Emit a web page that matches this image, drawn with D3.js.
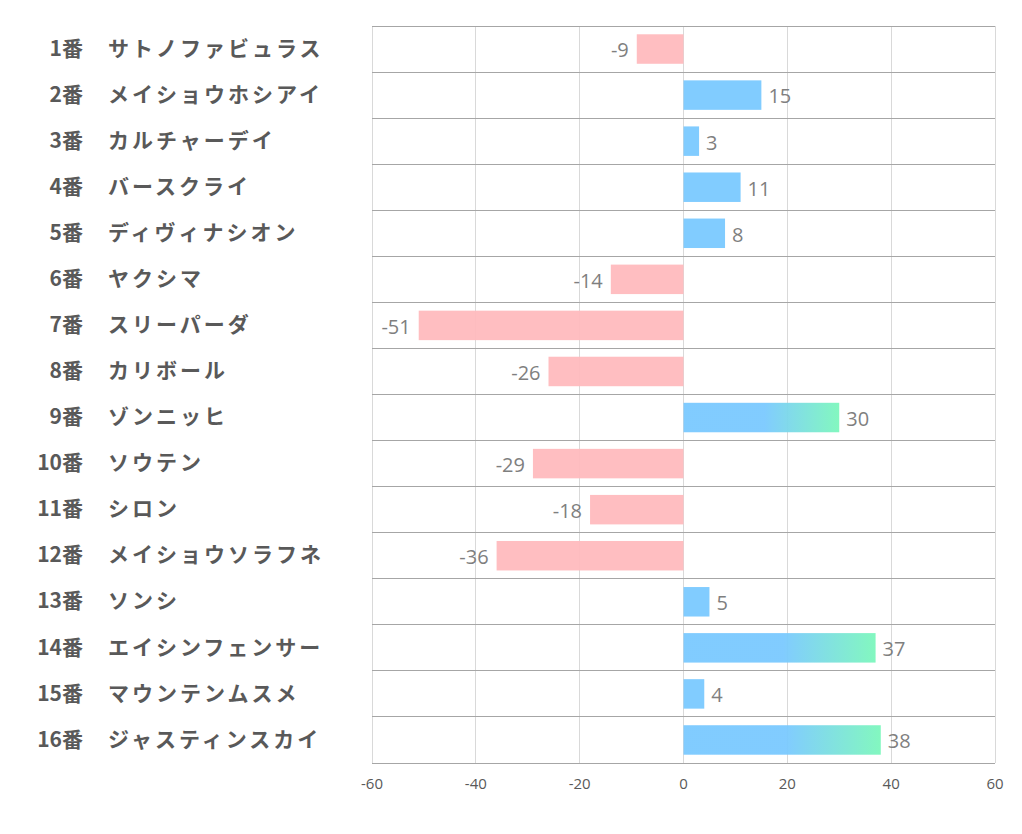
<!DOCTYPE html>
<html><head><meta charset="utf-8">
<script src="https://cdn.jsdelivr.net/npm/d3@7"></script>
<style>body{margin:0;background:#fff;} svg{display:block;}</style>
</head><body>
<svg id="c" width="1022" height="834"></svg>
<script>
const numbers = ["1番","2番","3番","4番","5番","6番","7番","8番","9番","10番","11番","12番","13番","14番","15番","16番"];
const names = ["サトノファビュラス","メイショウホシアイ","カルチャーデイ","バースクライ","ディヴィナシオン","ヤクシマ","スリーパーダ","カリボール","ゾンニッヒ","ソウテン","シロン","メイショウソラフネ","ソンシ","エイシンフェンサー","マウンテンムスメ","ジャスティンスカイ"];
const values = [-9,15,3,11,8,-14,-51,-26,30,-29,-18,-36,5,37,4,38];
const ticks = [-60,-40,-20,0,20,40,60];

(function(){
const svg = d3.select("#c");
const pL = 372, pR = 995, pT = 26, pB = 763;
const x = d3.scaleLinear().domain([-60,60]).range([pL,pR]);
const y = d3.scaleBand().domain(d3.range(values.length)).range([pT,pB]).paddingInner(0.36).paddingOuter(0.18);
const step = (pB-pT)/values.length;
const font = "'Noto Sans CJK JP','Noto Sans',sans-serif";

const defs = svg.append("defs");
const g = defs.append("linearGradient").attr("id","gr").attr("x1","0").attr("x2","1").attr("y1","0").attr("y2","0");
g.append("stop").attr("offset","0").attr("stop-color","#7ac9ff");
g.append("stop").attr("offset","0.52").attr("stop-color","#7ac9ff");
g.append("stop").attr("offset","1").attr("stop-color","#7cf7bc");

svg.append("g").selectAll("line").data(ticks).join("line")
  .attr("x1",d=>x(d)).attr("x2",d=>x(d)).attr("y1",pT).attr("y2",pB)
  .attr("stroke","#d9d9d9").attr("stroke-width",1).attr("shape-rendering","crispEdges");
svg.append("g").selectAll("line").data(d3.range(values.length+1)).join("line")
  .attr("x1",pL).attr("x2",pR).attr("y1",i=>pT+i*step).attr("y2",i=>pT+i*step)
  .attr("stroke","#a6a6a6").attr("stroke-width",1).attr("shape-rendering","crispEdges");

svg.append("g").selectAll("rect").data(values).join("rect")
  .attr("x",d=>x(Math.min(0,d))).attr("width",d=>Math.abs(x(d)-x(0)))
  .attr("y",(d,i)=>y(i)).attr("height",y.bandwidth())
  .attr("fill",d=>d<0?"#ffbbbe":(d>=30?"url(#gr)":"#7ac9ff"))
  .attr("fill-opacity",0.95);

svg.append("g").selectAll("text").data(values).join("text")
  .attr("x",d=>d<0?x(d)-8:x(d)+7)
  .attr("y",(d,i)=>y(i)+y.bandwidth()/2+3)
  .attr("text-anchor",d=>d<0?"end":"start")
  .attr("dominant-baseline","middle")
  .attr("font-family","'Open Sans','Noto Sans',sans-serif").attr("font-size",20)
  .attr("fill","#7f7f7f").text(d=>d);

const cat = svg.append("g");
cat.selectAll("text.n").data(numbers).join("text").attr("class","n")
  .attr("x",83).attr("y",(d,i)=>pT+i*step+step/2+1)
  .attr("text-anchor","end").attr("dominant-baseline","middle")
  .attr("font-family",font).attr("font-weight","bold").attr("font-size",21)
  .attr("fill","#595959").text(d=>d);
cat.selectAll("text.m").data(names).join("text").attr("class","m")
  .attr("x",108).attr("y",(d,i)=>pT+i*step+step/2+1)
  .attr("text-anchor","start").attr("dominant-baseline","middle")
  .attr("font-family",font).attr("font-weight","bold").attr("font-size",21)
  .attr("letter-spacing",3)
  .attr("fill","#595959").text(d=>d);

svg.append("g").selectAll("text").data(ticks).join("text")
  .attr("x",d=>x(d)).attr("y",785).attr("text-anchor","middle").attr("dominant-baseline","middle")
  .attr("font-family","'Open Sans','Noto Sans',sans-serif").attr("font-size",15)
  .attr("fill","#595959").text(d=>d);
})();
</script>
</body></html>
